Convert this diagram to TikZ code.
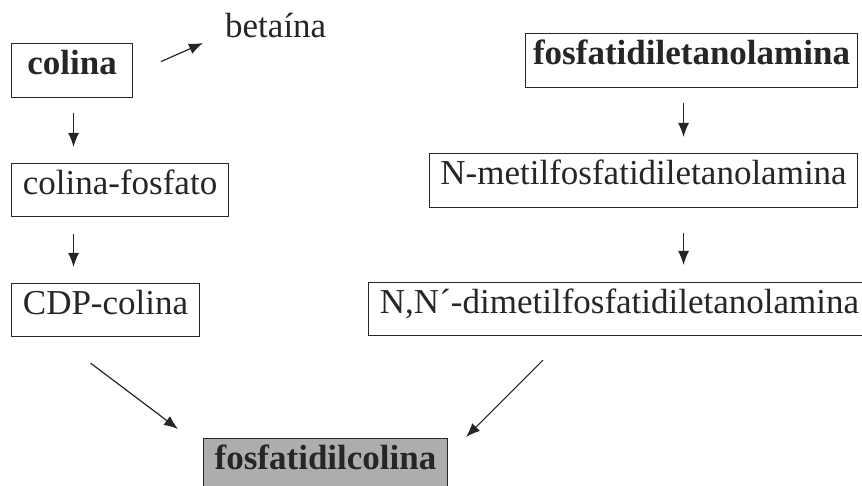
\documentclass[tikz,border=0pt]{standalone}
\usepackage{fontspec}
\setmainfont{Liberation Serif}
\usetikzlibrary{%
  arrows.meta,
  calc
}
\definecolor{inkgray}{gray}{0.15}
\definecolor{boxfill}{gray}{0.68}
\tikzset{
  box/.style={draw=inkgray, line width=1.1pt, inner sep=0pt, anchor=north west,
    text=inkgray, text height=0.8em, text depth=0pt,
    font=\fontsize{35}{40}\selectfont},
  boldbox/.style={box, font=\fontsize{35}{40}\selectfont\bfseries},
  arr/.style={draw=inkgray, line width=1.2pt, -{Latex[length=14pt,width=11pt]}},
}

\begin{document}
\begin{tikzpicture}[x=1pt,y=-1pt]
\useasboundingbox (0,0) rectangle (862,486);
\clip (0,0) rectangle (862,486);
%%%left column
\node[boldbox, minimum width=121pt, minimum height=54pt] (colina) at (11,43) {colina};
\node[box, minimum width=217pt, minimum height=53pt] (cfosfato) at (11,163) {colina-fosfato};
\node[box, minimum width=188pt, minimum height=53pt] (cdp) at (11,283) {CDP-colina};
\node[anchor=base west, text=inkgray, font=\fontsize{35}{40}\selectfont, inner sep=0pt] (betaina) at (225,38) {betaína};

%%%right column
\node[boldbox, minimum width=332pt, minimum height=54pt] (pe) at (525,33) {fosfatidiletanolamina};
\node[box, minimum width=428pt, minimum height=54pt] (nmetil) at (429,153) {N-metilfosfatidiletanolamina};
\node[box, minimum width=502pt, minimum height=53pt] (nn) at (368,282) {N,N´-dimetilfosfatidiletanolamina};

%%%product
\node[boldbox, fill=boxfill, minimum width=244pt, minimum height=54pt] (pc) at (203,438) {fosfatidilcolina};

%%%colina -> betaina
\draw[arr] ($(colina.east)+(28,-9)$) -- ($(betaina.base west)+(-22,5)$);

%%%left steps
\draw[arr] ($(colina.south)+(1.5,15)$) -- ($(colina.south |- cfosfato.north)+(1.5,-16)$);
\draw[arr] ($(cfosfato.south -| colina.south)+(1.5,17)$) -- ($(colina.south |- cdp.north)+(1.5,-16)$);

%%%right steps
\draw[arr] ($(pe.south)+(-8,15)$) -- ($(pe.south |- nmetil.north)+(-8,-16)$);
\draw[arr] ($(pe.south |- nmetil.south)+(-8,25)$) -- ($(pe.south |- nn.north)+(-8,-17)$);

%%%both routes to fosfatidilcolina
\draw[arr] ($(cdp.south)+(-15,26)$) -- ($(pc.north west)+(-25,-9)$);
\draw[arr] ($(nn.south west)+(175,24)$) -- ($(pc.north east)+(18,-1)$);

\end{tikzpicture}
\end{document}
